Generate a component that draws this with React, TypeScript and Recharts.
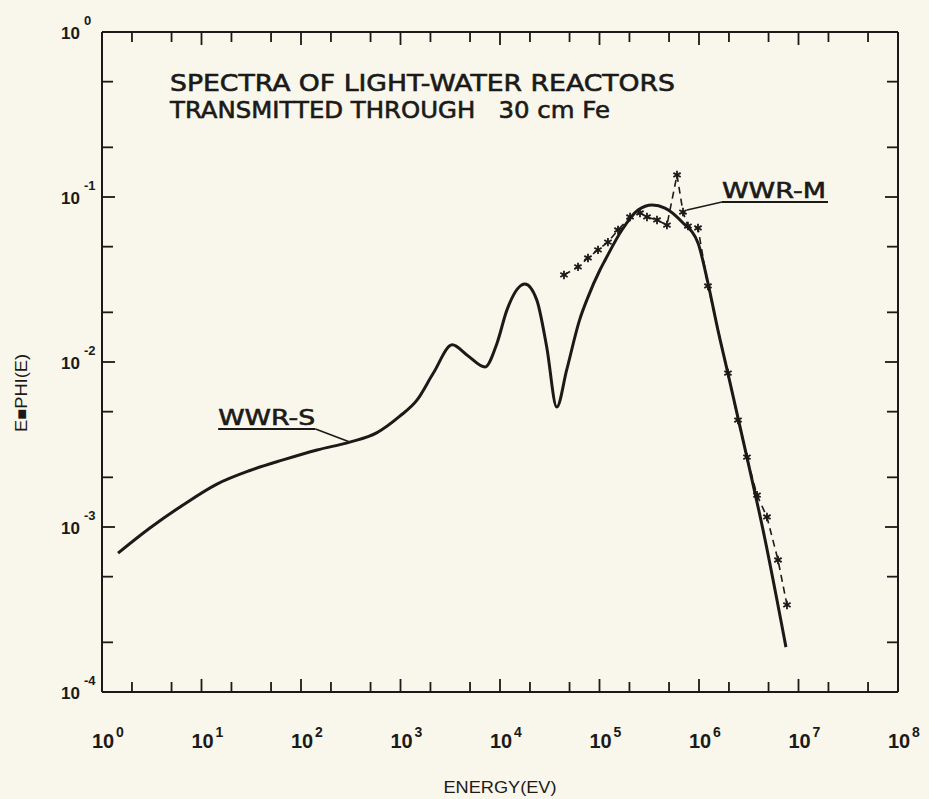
import { LineChart, Line, XAxis, YAxis, ReferenceLine } from 'recharts';

document.body.style.margin = '0';

const INK = '#1b1a18';
const PAPER = '#f9f6eb';
const TICK_FONT = "'Liberation Sans', Arial, sans-serif";
const TEXT_FONT = "'DejaVu Sans', 'Liberation Sans', sans-serif";
const NARROW_FONT = "'Liberation Sans Narrow', 'Liberation Sans', sans-serif";

// tick values (labels only on the powers of ten)
const energyTicks = [
    1, 2, 5, 10, 20, 50, 100, 200, 500, 1e3, 2e3, 5e3, 1e4, 2e4, 5e4,
    1e5, 2e5, 5e5, 1e6, 2e6, 5e6, 1e7, 2e7, 5e7, 1e8,
];
const fluxTicks = [
    1e-4, 2e-4, 5e-4, 1e-3, 2e-3, 5e-3, 1e-2, 2e-2, 5e-2, 1e-1, 2e-1, 5e-1, 1,
];

// WWR-S, solid curve
const wwrSEnergy = [
    1.45, 3.03, 6.52, 14.3, 30.7, 65.9, 145, 309, 575, 977, 1470, 2140, 3310,
    4680, 7080, 9330, 11750, 17800, 23400, 29500, 37200, 46800, 63100, 75900,
    101000, 114000, 168000, 244000, 339000, 455000, 676000, 977000, 1230000,
    1550000, 1950000, 3030000, 4400000, 7480000,
];
const wwrSFlux = [
    6.95e-4, 9.86e-4, 1.36e-3, 1.82e-3, 2.2e-3, 2.55e-3, 2.93e-3, 3.27e-3,
    3.72e-3, 4.68e-3, 5.89e-3, 8.57e-3, 1.27e-2, 1.1e-2, 9.33e-3, 1.3e-2,
    2.07e-2, 2.97e-2, 2.38e-2, 1.23e-2, 5.33e-3, 8.95e-3, 1.8e-2, 2.44e-2,
    3.61e-2, 4.15e-2, 6.31e-2, 8.34e-2, 8.95e-2, 8.57e-2, 7.05e-2, 5.26e-2,
    3.01e-2, 1.56e-2, 8.57e-3, 2.65e-3, 9.6e-4, 1.87e-4,
];

// WWR-M, dashed curve with star markers
const wwrMEnergy = [
    43950, 60800, 76600, 96600, 121600, 153500, 202800, 255300, 300000, 378400,
    476400, 601200, 690200, 774500, 977200, 1230000, 1954000, 2466000, 3034000,
    3828000, 4819000, 6223000, 7656000,
];
const wwrMFlux = [
    3.37e-2, 3.77e-2, 4.27e-2, 4.78e-2, 5.33e-2, 6.31e-2, 7.57e-2, 8.0e-2,
    7.57e-2, 7.26e-2, 6.76e-2, 0.136, 8.11e-2, 6.67e-2, 6.49e-2, 2.89e-2,
    8.57e-3, 4.45e-3, 2.65e-3, 1.56e-3, 1.15e-3, 6.31e-4, 3.37e-4,
];

const wwrS = wwrSEnergy.map((e, i) => ({ e, v: wwrSFlux[i] }));
const wwrM = wwrMEnergy.map((e, i) => ({ e, v: wwrMFlux[i] }));

const isMajor = (v: number) => {
    const l = Math.log10(v);
    return Math.abs(l - Math.round(l)) < 1e-6;
};

const BottomTick = ({ x, y, payload }: any) => {
    const v = payload.value;
    const major = isMajor(v);
    const exp = Math.round(Math.log10(v));
    return (
        <g>
            <line x1={x} y1={y} x2={x} y2={y - (major ? 13 : 10)} stroke={INK} strokeWidth={1.8} />
            {major && (
                <>
                    <text x={x - 10} y={y + 56} fontSize={20} fontWeight="bold" fontFamily={TICK_FONT} fill={INK}>
                        10
                    </text>
                    <text x={x + 14} y={y + 45} fontSize={14} fontWeight="bold" fontFamily={TICK_FONT} fill={INK}>
                        {exp}
                    </text>
                </>
            )}
        </g>
    );
};

const TopTick = ({ x, y, payload }: any) => {
    const major = isMajor(payload.value);
    return <line x1={x} y1={y} x2={x} y2={y + (major ? 13 : 10)} stroke={INK} strokeWidth={1.8} />;
};

const LeftTick = ({ x, y, payload }: any) => {
    const v = payload.value;
    const major = isMajor(v);
    const exp = Math.round(Math.log10(v));
    return (
        <g>
            <line x1={x} y1={y} x2={x + (major ? 13 : 11)} y2={y} stroke={INK} strokeWidth={1.8} />
            {major && (
                <>
                    <text x={x - 41} y={y + 7} fontSize={17} fontWeight="bold" fontFamily={TICK_FONT} fill={INK}>
                        10
                    </text>
                    <text x={x - 18} y={y - 7} fontSize={13} fontWeight="bold" fontFamily={TICK_FONT} fill={INK}>
                        {exp === 0 ? '0' : `-${Math.abs(exp)}`}
                    </text>
                </>
            )}
        </g>
    );
};

const RightTick = ({ x, y, payload }: any) => {
    const major = isMajor(payload.value);
    return <line x1={x} y1={y} x2={x - (major ? 13 : 11)} y2={y} stroke={INK} strokeWidth={1.8} />;
};

const Star = ({ cx, cy }: any) => {
    if (cx == null || cy == null) return null;
    const r = 4.2;
    return (
        <g stroke={INK} strokeWidth={1.8}>
            <line x1={cx} y1={cy - r} x2={cx} y2={cy + r} />
            <line x1={cx - r * 0.87} y1={cy - r * 0.5} x2={cx + r * 0.87} y2={cy + r * 0.5} />
            <line x1={cx - r * 0.87} y1={cy + r * 0.5} x2={cx + r * 0.87} y2={cy - r * 0.5} />
        </g>
    );
};

const curveLabel = (text: string, width: number) => (props: any) => {
    const vb = props.viewBox || {};
    return (
        <text
            x={vb.x}
            y={vb.y - 4}
            fontSize={22}
            fontFamily={TEXT_FONT}
            fill={INK}
            stroke={INK}
            strokeWidth={0.6}
            textLength={width}
            lengthAdjust="spacingAndGlyphs"
        >
            {text}
        </text>
    );
};

export default function App() {
    return (
        <div style={{ position: 'relative', width: 929, height: 799, background: PAPER }}>
            <LineChart width={929} height={799} margin={{ top: 31, right: 30, left: 0, bottom: 0 }}>
                <XAxis
                    dataKey="e"
                    type="number"
                    scale="log"
                    domain={[1, 1e8]}
                    ticks={energyTicks}
                    interval={0}
                    allowDataOverflow
                    height={107}
                    tickSize={0}
                    tickMargin={0}
                    tickLine={false}
                    axisLine={{ stroke: INK, strokeWidth: 2 }}
                    tick={<BottomTick />}
                    label={(p: any) => (
                        <text
                            x={p.viewBox.x + p.viewBox.width / 2}
                            y={793}
                            textAnchor="middle"
                            fontSize={16}
                            fontFamily={NARROW_FONT}
                            fill={INK}
                            textLength={113}
                            lengthAdjust="spacingAndGlyphs"
                        >
                            ENERGY(EV)
                        </text>
                    )}
                />
                <XAxis
                    xAxisId="top"
                    orientation="top"
                    dataKey="e"
                    type="number"
                    scale="log"
                    domain={[1, 1e8]}
                    ticks={energyTicks}
                    interval={0}
                    allowDataOverflow
                    height={1}
                    tickSize={0}
                    tickMargin={0}
                    tickLine={false}
                    axisLine={{ stroke: INK, strokeWidth: 2 }}
                    tick={<TopTick />}
                />
                <YAxis
                    type="number"
                    scale="log"
                    domain={[1e-4, 1]}
                    ticks={fluxTicks}
                    interval={0}
                    allowDataOverflow
                    width={102}
                    tickSize={0}
                    tickMargin={0}
                    tickLine={false}
                    axisLine={{ stroke: INK, strokeWidth: 2 }}
                    tick={<LeftTick />}
                    label={() => (
                        <text
                            x={27}
                            y={393}
                            transform="rotate(-90 27 393)"
                            textAnchor="middle"
                            fontSize={16}
                            fontFamily={NARROW_FONT}
                            fill={INK}
                            textLength={78}
                            lengthAdjust="spacingAndGlyphs"
                        >
                            E■PHI(E)
                        </text>
                    )}
                />
                <YAxis
                    yAxisId="right"
                    orientation="right"
                    type="number"
                    scale="log"
                    domain={[1e-4, 1]}
                    ticks={fluxTicks}
                    interval={0}
                    allowDataOverflow
                    width={1}
                    tickSize={0}
                    tickMargin={0}
                    tickLine={false}
                    axisLine={{ stroke: INK, strokeWidth: 2 }}
                    tick={<RightTick />}
                />

                {/* curve labels with underline and leader */}
                <ReferenceLine
                    segment={[{ x: 14.7, y: 3.93e-3 }, { x: 140, y: 3.93e-3 }]}
                    stroke={INK}
                    strokeWidth={2}
                    ifOverflow="visible"
                    label={curveLabel('WWR-S', 97)}
                />
                <ReferenceLine
                    segment={[{ x: 140, y: 3.93e-3 }, { x: 309, y: 3.27e-3 }]}
                    stroke={INK}
                    strokeWidth={1.6}
                    ifOverflow="visible"
                />
                <ReferenceLine
                    segment={[{ x: 1.7e6, y: 9.33e-2 }, { x: 1.98e7, y: 9.33e-2 }]}
                    stroke={INK}
                    strokeWidth={2}
                    ifOverflow="visible"
                    label={curveLabel('WWR-M', 104)}
                />
                <ReferenceLine
                    segment={[{ x: 1.7e6, y: 9.33e-2 }, { x: 7.57e5, y: 8.34e-2 }]}
                    stroke={INK}
                    strokeWidth={1.6}
                    ifOverflow="visible"
                />

                <Line
                    data={wwrS}
                    dataKey="v"
                    type="monotone"
                    stroke={INK}
                    strokeWidth={3}
                    dot={false}
                    activeDot={false}
                    isAnimationActive={false}
                />
                <Line
                    data={wwrM}
                    dataKey="v"
                    type="linear"
                    stroke={INK}
                    strokeWidth={1.6}
                    strokeDasharray="7 5"
                    dot={<Star />}
                    activeDot={false}
                    isAnimationActive={false}
                />
                {/* invisible series so the top and right frame axes are laid out */}
                <Line
                    data={wwrS}
                    dataKey="v"
                    xAxisId="top"
                    yAxisId="right"
                    stroke="none"
                    dot={false}
                    activeDot={false}
                    legendType="none"
                    isAnimationActive={false}
                />
            </LineChart>
            <svg
                width={929}
                height={799}
                style={{ position: 'absolute', left: 0, top: 0, pointerEvents: 'none' }}
            >
                <text
                    x={170}
                    y={91}
                    fontSize={23}
                    fontFamily={TEXT_FONT}
                    fill={INK}
                    stroke={INK}
                    strokeWidth={0.6}
                    textLength={505}
                    lengthAdjust="spacingAndGlyphs"
                >
                    SPECTRA OF LIGHT-WATER REACTORS
                </text>
                <text
                    x={170}
                    y={118}
                    fontSize={23}
                    fontFamily={TEXT_FONT}
                    fill={INK}
                    stroke={INK}
                    strokeWidth={0.6}
                    textLength={440}
                    lengthAdjust="spacingAndGlyphs"
                    style={{ whiteSpace: 'pre' }}
                >
                    {'TRANSMITTED THROUGH   30 cm Fe'}
                </text>
            </svg>
        </div>
    );
}
